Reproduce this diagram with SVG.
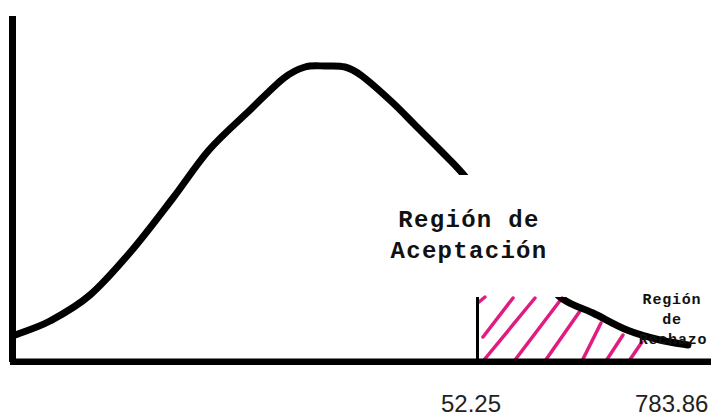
<svg xmlns="http://www.w3.org/2000/svg" width="711" height="419" viewBox="0 0 711 419">
  <style>
    .axis { stroke: #000; fill: none; stroke-linecap: butt; }
    .curve { stroke: #000; stroke-width: 7; fill: none; stroke-linecap: round; stroke-linejoin: round; }
    .hatch { stroke: #E01C80; stroke-width: 3.5; stroke-linecap: round; }
    .mono { font-family: "Liberation Mono", "Courier New", monospace; font-weight: bold; fill: #111; text-anchor: middle; }
    .big { font-size: 24px; letter-spacing: 1.3px; }
    .small { font-size: 15px; letter-spacing: 0.8px; }
    .num { font-family: "Liberation Sans", Arial, sans-serif; font-size: 24px; fill: #222; }
  </style>
  <defs>
    <clipPath id="hideText">
      <path clip-rule="evenodd" d="M0,0H711V419H0Z M400,175H711V297H400Z"/>
    </clipPath>
  </defs>
  <rect width="711" height="419" fill="#fff"/>

  <g id="rejection-region">
    <g class="hatch">
      <line x1="479" y1="302" x2="485" y2="297"/>
      <line x1="483" y1="337" x2="513" y2="298"/>
      <line x1="484" y1="360" x2="535" y2="298"/>
      <line x1="515" y1="360" x2="562" y2="298"/>
      <line x1="545" y1="361" x2="580" y2="311"/>
      <line x1="582" y1="361" x2="601" y2="323"/>
      <line x1="606" y1="361" x2="623" y2="335"/>
      <line x1="629" y1="361" x2="642" y2="342"/>
    </g>
    <line id="critical-line" class="axis" x1="477.5" y1="297" x2="477.5" y2="360" stroke-width="3"/>
  </g>

  <g id="curve">
    <path class="curve" clip-path="url(#hideText)" d="M15,335 C20.8,332.7 37.5,327.7 50,321 C62.5,314.3 76.2,307 90,295 C103.8,283 119.2,265.2 133,249 C146.8,232.8 160.3,214.5 173,198 C185.7,181.5 196.2,164.7 209,150 C221.8,135.3 237.5,122 250,110 C262.5,98 274.8,85.2 284,78 C293.2,70.8 298.2,69 305,67 C311.8,65 318.3,66 325,66 C331.7,66 338.8,65.3 345,67 C351.2,68.7 354,70 362,76 C370,82 384.2,94.8 393,103 C401.8,111.2 407.2,117.2 415,125 C422.8,132.8 432,141.8 440,150 C448,158.2 453.8,163.2 463,174 C472.2,184.8 483.8,200.3 495,215 C506.2,229.7 519.2,248.3 530,262 C540.8,275.7 549.5,288.5 560,297 C570.5,305.5 581.8,307.5 593,313 C604.2,318.5 615.8,325.5 627,330 C638.2,334.5 649.8,337.5 660,340 C670.2,342.5 683.3,344.2 688,345"/>
  </g>

  <g id="axes">
    <line class="axis" x1="12.5" y1="16" x2="12.5" y2="362" stroke-width="7"/>
    <line class="axis" x1="10" y1="361.7" x2="711" y2="361.7" stroke-width="6.5"/>
  </g>

  <g id="acceptance-label">
    <text class="mono big" x="469" y="227">Región de</text>
    <text class="mono big" x="469" y="258">Aceptación</text>
  </g>

  <g id="rejection-label">
    <text class="mono small" x="672" y="304">Región</text>
    <text class="mono small" x="672" y="324">de</text>
    <text class="mono small" x="673" y="344">Rechazo</text>
  </g>

  <g id="values">
    <text class="num" x="441" y="412">52.25</text>
    <text class="num" x="635" y="412">783.86</text>
  </g>
</svg>
